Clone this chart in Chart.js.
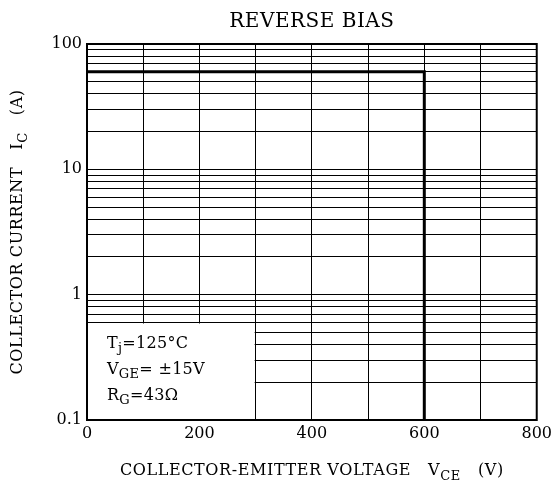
<!DOCTYPE html>
<html>
<head>
<meta charset="utf-8">
<script src="https://cdn.jsdelivr.net/npm/chart.js@4.4.0/dist/chart.umd.min.js"></script>
<style>
  html, body { margin: 0; padding: 0; background: #fff; }
  #wrap { width: 556px; height: 487px; }
</style>
</head>
<body>
<div id="wrap"><canvas id="graficoRBSOA"></canvas></div>
<script>
// datos
const voltajeVCE = [0, 600, 600];        // V
const corrienteIC = [60, 60, 0.1];       // A
const ticksY = [0.1, 0.2, 0.3, 0.4, 0.5, 0.6, 0.7, 0.8, 0.9,
                1, 2, 3, 4, 5, 6, 7, 8, 9,
                10, 20, 30, 40, 50, 60, 70, 80, 90, 100];
const etiquetasY = [0.1, 1, 10, 100];
const etiquetasX = [0, 200, 400, 600, 800];
const condiciones = [
  ['T', 'j', '=125°C'],
  ['V', 'GE', '= ±15V'],
  ['R', 'G', '=43Ω']
];
// zona del recuadro de condiciones (en unidades de los ejes)
const recuadroX = [0, 300];
const recuadroY = [0.1, 0.6];

const FUENTE = '"DejaVu Serif", "Liberation Serif", serif';

// texto con subindice
function textoSub(ctx, x, y, partes, tam, alinear, espacio) {
  const [base, sub, resto] = partes;
  ctx.letterSpacing = (espacio || 0) + 'px';
  ctx.font = tam + 'px ' + FUENTE;
  const w1 = ctx.measureText(base).width;
  const w3 = ctx.measureText(resto).width;
  ctx.font = Math.round(tam * 0.8) + 'px ' + FUENTE;
  const w2 = ctx.measureText(sub).width;
  const total = w1 + w2 + w3;
  let x0 = x;
  if (alinear === 'center') x0 = x - total / 2;
  ctx.textAlign = 'left';
  ctx.textBaseline = 'middle';
  ctx.font = tam + 'px ' + FUENTE;
  ctx.fillText(base, x0, y);
  ctx.font = Math.round(tam * 0.8) + 'px ' + FUENTE;
  ctx.fillText(sub, x0 + w1, y + tam * 0.35);
  ctx.font = tam + 'px ' + FUENTE;
  ctx.fillText(resto, x0 + w1 + w2, y);
  ctx.letterSpacing = '0px';
}

const pluginDibujo = {
  id: 'dibujo',
  beforeDatasetsDraw(chart) {
    // recuadro blanco que tapa la reticula
    const ctx = chart.ctx;
    const sx = chart.scales.x, sy = chart.scales.y;
    const x1 = sx.getPixelForValue(recuadroX[0]) + 1;
    const x2 = sx.getPixelForValue(recuadroX[1]) - 1;
    const y1 = sy.getPixelForValue(recuadroY[1]) + 1;
    const y2 = sy.getPixelForValue(recuadroY[0]) - 1;
    ctx.save();
    ctx.fillStyle = '#fff';
    ctx.fillRect(x1, y1, x2 - x1, y2 - y1);
    ctx.restore();
  },
  afterDraw(chart) {
    const ctx = chart.ctx;
    const a = chart.chartArea;
    const sx = chart.scales.x, sy = chart.scales.y;
    ctx.save();
    // marco
    ctx.strokeStyle = '#000';
    ctx.lineWidth = 2;
    ctx.strokeRect(a.left, a.top, a.right - a.left, a.bottom - a.top);

    ctx.fillStyle = '#000';
    const cx = (a.left + a.right) / 2;
    // titulo
    ctx.font = '20px ' + FUENTE;
    ctx.letterSpacing = '0.5px';
    ctx.textAlign = 'center';
    ctx.textBaseline = 'middle';
    ctx.fillText('REVERSE BIAS', cx, 22);
    ctx.letterSpacing = '0px';

    // titulo eje x
    textoSub(ctx, cx, 471, ['COLLECTOR-EMITTER VOLTAGE   V', 'CE', '   (V)'], 16, 'center', 0.6);

    // titulo eje y
    ctx.save();
    ctx.translate(18, (a.top + a.bottom) / 2);
    ctx.rotate(-Math.PI / 2);
    textoSub(ctx, 0, 0, ['COLLECTOR CURRENT   I', 'C', '   (A)'], 16, 'center', 0.6);
    ctx.restore();

    // condiciones
    const xt = sx.getPixelForValue(recuadroX[0]) + 20;
    let yt = sy.getPixelForValue(recuadroY[1]) + 21;
    condiciones.forEach(c => {
      textoSub(ctx, xt, yt, c, 16, 'left', 0.3);
      yt += 26;
    });
    ctx.restore();
  }
};

const ctx = document.getElementById('graficoRBSOA');
new Chart(ctx, {
  type: 'scatter',
  data: {
    datasets: [{
      label: 'RBSOA',
      data: voltajeVCE.map((v, i) => ({ x: v, y: corrienteIC[i] })),
      showLine: true,
      borderColor: '#000',
      borderWidth: 3,
      pointRadius: 0,
      fill: false
    }]
  },
  options: {
    responsive: true,
    maintainAspectRatio: false,
    animation: false,
    layout: { padding: { left: 0, top: 44, right: 16, bottom: 0 } },
    plugins: {
      legend: { display: false },
      title: { display: false },
      tooltip: { enabled: false }
    },
    scales: {
      x: {
        type: 'linear',
        min: 0,
        max: 800,
        afterFit(scale) { scale.height = 67; },
        afterBuildTicks(scale) {
          const t = [];
          for (let v = 0; v <= 800; v += 100) t.push({ value: v });
          scale.ticks = t;
        },
        ticks: {
          autoSkip: false,
          maxRotation: 0,
          color: '#000',
          padding: 4,
          font: { family: FUENTE, size: 16 },
          callback: v => etiquetasX.includes(v) ? String(v) : ''
        },
        grid: { color: '#000', lineWidth: 1, drawTicks: false },
        border: { display: false }
      },
      y: {
        type: 'logarithmic',
        min: 0.1,
        max: 100,
        afterFit(scale) { scale.width = 87; },
        afterBuildTicks(scale) {
          scale.ticks = ticksY.map(v => ({ value: v }));
        },
        ticks: {
          autoSkip: false,
          color: '#000',
          padding: 5,
          font: { family: FUENTE, size: 16 },
          callback: v => etiquetasY.includes(v) ? String(v) : ''
        },
        grid: { color: '#000', lineWidth: 1, drawTicks: false },
        border: { display: false }
      }
    }
  },
  plugins: [pluginDibujo]
});
</script>
</body>
</html>
